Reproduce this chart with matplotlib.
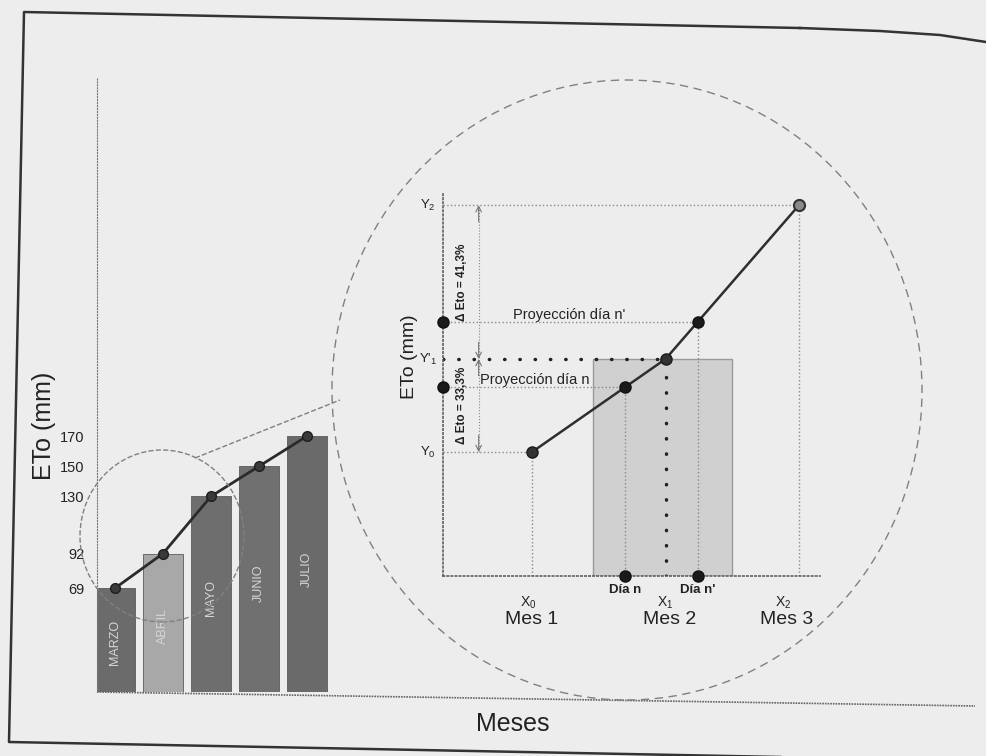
import numpy as np
import matplotlib
matplotlib.use('Agg')
import matplotlib.pyplot as plt
from matplotlib.patches import Ellipse, Rectangle
from matplotlib.lines import Line2D

plt.rcParams['font.family'] = ['Liberation Sans', 'DejaVu Sans']
plt.rcParams['mathtext.fontset'] = 'custom'
plt.rcParams['mathtext.rm'] = 'Liberation Sans'
plt.rcParams['mathtext.it'] = 'Liberation Sans'

# main chart
meses = ['MARZO', 'ABRIL', 'MAYO', 'JUNIO', 'JULIO']
eto = [69, 92, 130, 150, 170]
yticks = [69, 92, 130, 150, 170]

# zoomed detail (month 1..3)
x_mes = [0, 1, 2]
y_mes = [100, 133.3, 188.4]
mes_labels = ['Mes 1', 'Mes 2', 'Mes 3']
x_labels = [r'X$_0$', r'X$_1$', r'X$_2$']
y_labels = [r'Y$_0$', r"Y'$_1$", r'Y$_2$']
delta_labels = ['Δ Eto = 33,3%', 'Δ Eto = 41,3%']
x_dia = [0.70, 1.24]
y_dia = [123.3, 146.5]
dia_labels = ['Día n', "Día n'"]
proy_labels = ['Proyección día n', "Proyección día n'"]
mes2_span = [0.46, 1.5]

W, H = 986, 756
fig = plt.figure(figsize=(W / 100, H / 100), dpi=100)
fig.patch.set_facecolor('#ededed')


def fr(px, py):
    return px / W, 1 - py / H


# --- main bar chart ---
ax = fig.add_axes([97 / W, 1 - 692 / H, 878 / W, 614 / H])
ax.set_facecolor('none')
pos = np.arange(len(meses))
colors = ['#6b6b6b', '#a8a8a8', '#6e6e6e', '#707070', '#6a6a6a']
ax.bar(pos, eto, width=0.84, color=colors, edgecolor='#5c5c5c', lw=0.6)
ax.plot(pos, eto, color='#2b2b2b', lw=2, marker='o', ms=7,
        mfc='#3a3a3a', mec='#1e1e1e')
for p, v, m in zip(pos, eto, meses):
    ax.text(p, v * 0.48, m, rotation=90, ha='center', va='center',
            color='#d6d6d6', fontsize=9)
ax.set_xlim(-0.375, 17.92)
ax.set_ylim(0, 408)
ax.set_yticks(yticks)
ax.set_xticks([])
ax.tick_params(axis='y', length=0, labelsize=10.5, pad=9, labelcolor='#222')
for s in ['top', 'right', 'bottom']:
    ax.spines[s].set_visible(False)
ax.spines['left'].set_linestyle(':')
ax.spines['left'].set_color('#777')
ax.plot([0, 1], [0, -14 / 614], transform=ax.transAxes, clip_on=False,
        color='#666', lw=1.2, ls=(0, (1, 0.6)))
fig.text(*fr(44, 426), 'ETo (mm)', rotation=90, ha='center', va='center',
         fontsize=18, color='#222')
fig.text(*fr(513, 724), 'Meses', ha='center', va='center', fontsize=18,
         color='#222')

# zoom circles and connector
fig.add_artist(Ellipse(fr(162, 536), 164 / W, 172 / H, transform=fig.transFigure,
                       fill=False, ls='--', ec='#808080', lw=1))
fig.add_artist(Ellipse(fr(627, 390), 590 / W, 620 / H, transform=fig.transFigure,
                       fill=False, ls=(0, (6, 4)), ec='#808080', lw=1))
x0, y0 = fr(195, 458)
x1, y1 = fr(340, 400)
fig.add_artist(Line2D([x0, x1], [y0, y1], transform=fig.transFigure,
                      ls='--', color='#808080', lw=1))

# page frame
fx, fy = zip(*[fr(*p) for p in [(800, 28), (24, 12), (9, 742), (986, 761)]])
fig.add_artist(Line2D(fx, fy, transform=fig.transFigure, color='#333', lw=1.8))
cx, cy = zip(*[fr(*p) for p in [(800, 28), (880, 31), (940, 35), (986, 42)]])
fig.add_artist(Line2D(cx, cy, transform=fig.transFigure, color='#333', lw=1.8))

# --- zoomed detail ---
ax2 = fig.add_axes([443 / W, 1 - 576 / H, 377 / W, 384 / H])
ax2.set_facecolor('none')
xl, xr = -0.667, 2.157
yb, yt = 55.6, 193.1
ax2.set_xlim(xl, xr)
ax2.set_ylim(yb, yt)
ax2.set_xticks([])
ax2.set_yticks([])
for s in ['top', 'right']:
    ax2.spines[s].set_visible(False)
for s in ['left', 'bottom']:
    ax2.spines[s].set_linestyle(':')
    ax2.spines[s].set_color('#555')
    ax2.spines[s].set_linewidth(1.1)

ax2.add_patch(Rectangle((mes2_span[0], yb), mes2_span[1] - mes2_span[0],
                        y_mes[1] - yb, fc='#d0d0d0', ec='#9a9a9a', lw=1))

light = dict(color='#8a8a8a', lw=1, ls=':')
ax2.plot([xl, x_mes[2]], [y_mes[2]] * 2, **light)
ax2.plot([x_mes[2]] * 2, [yb, y_mes[2]], **light)
ax2.plot([xl, x_mes[0]], [y_mes[0]] * 2, **light)
ax2.plot([x_mes[0]] * 2, [yb, y_mes[0]], **light)
for xd, yd in zip(x_dia, y_dia):
    ax2.plot([xl, xd], [yd, yd], **light)
    ax2.plot([xd, xd], [yb, yd], **light)
heavy = dict(color='#222', lw=2.5, ls=(0, (0.1, 4.3)), dash_capstyle='round')
ax2.plot([xl, x_mes[1]], [y_mes[1]] * 2, **heavy)
ax2.plot([x_mes[1]] * 2, [yb, y_mes[1]], **heavy)

# delta arrows
xa = -0.40
ax2.plot([xa, xa], [y_mes[0], y_mes[2]], color='#888', lw=0.8, ls=':')
arr = dict(arrowstyle='->', color='#777', lw=0.8, shrinkA=0, shrinkB=0)
for ya, yfrom in [(y_mes[2], y_mes[2] - 6), (y_mes[1], y_mes[1] + 6),
                  (y_mes[1], y_mes[1] - 6), (y_mes[0], y_mes[0] + 6)]:
    ax2.annotate('', xy=(xa, ya), xytext=(xa, yfrom), arrowprops=arr)
ax2.text(-0.524, (y_mes[0] + y_mes[1]) / 2, delta_labels[0], rotation=90,
         ha='center', va='center', fontsize=8.5, fontweight='bold', color='#222')
ax2.text(-0.524, (y_mes[1] + y_mes[2]) / 2, delta_labels[1], rotation=90,
         ha='center', va='center', fontsize=8.5, fontweight='bold', color='#222')

# ETo line and points
ax2.plot(x_mes, y_mes, color='#2e2e2e', lw=1.8, zorder=3)
ax2.plot(x_mes[:2], y_mes[:2], 'o', ms=8, mfc='#333', mec='#1a1a1a', zorder=4)
ax2.plot(x_mes[2], y_mes[2], 'o', ms=8, mfc='#8a8a8a', mec='#333', mew=1.5, zorder=4)
ax2.plot(x_dia, y_dia, 'o', ms=8, mfc='#1a1a1a', mec='#111', zorder=4)
ax2.plot([xl] * 2, y_dia, 'o', ms=8, mfc='#1a1a1a', mec='#111', clip_on=False, zorder=4)
ax2.plot(x_dia, [yb] * 2, 'o', ms=8, mfc='#1a1a1a', mec='#111', clip_on=False, zorder=4)

for lab, yv in zip(y_labels, y_mes):
    ax2.text(-0.78, yv, lab, ha='center', va='center', fontsize=9.5, color='#222')
ax2.text(-0.39, y_dia[0] + 1, proy_labels[0], ha='left', va='baseline',
         fontsize=10.5, color='#222')
ax2.text(-0.142, y_dia[1] + 1, proy_labels[1], ha='left', va='baseline',
         fontsize=10.5, color='#222')

label_dx = [-0.03, 0.0, -0.12]
for xm, dx, xlab, mlab in zip(x_mes, label_dx, x_labels, mes_labels):
    ax2.text(xm + dx, 46.0, xlab, ha='center', va='center', fontsize=10,
             color='#222', clip_on=False)
    ax2.text(xm + dx + 0.03, 39.9, mlab, ha='center', va='center', fontsize=14,
             color='#222', clip_on=False)
for xd, dl in zip(x_dia, dia_labels):
    ax2.text(xd, 50.6, dl, ha='center', va='center', fontsize=9.5,
             fontweight='bold', color='#222', clip_on=False)

fig.text(*fr(410, 357), 'ETo (mm)', rotation=90, ha='center', va='center',
         fontsize=14, color='#222')

fig.savefig('out.png', dpi=100, facecolor=fig.get_facecolor())
